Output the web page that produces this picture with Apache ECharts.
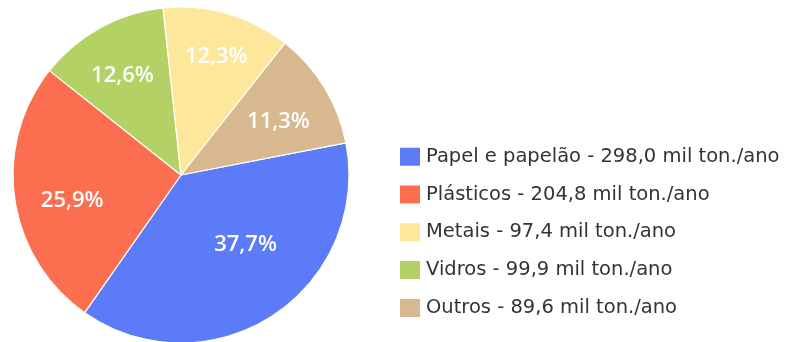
<!DOCTYPE html>
<html>
<head>
<meta charset="utf-8">
<script src="https://cdn.jsdelivr.net/npm/echarts@6/dist/echarts.min.js"></script>
<style>
  html, body { margin: 0; padding: 0; background: #ffffff; }
  #chart { width: 788px; height: 342px; }
</style>
</head>
<body>
<div id="chart"></div>
<script>
// Recyclable waste composition
const materials = ['Papel e papelão', 'Plásticos', 'Vidros', 'Metais', 'Outros'];
// share of total (%), as printed on the slices
const shares = [37.7, 25.9, 12.6, 12.3, 11.3];
// annual amount (thousand tonnes per year), as printed in the legend
const amounts = [298.0, 204.8, 99.9, 97.4, 89.6];
const legendOrder = ['Papel e papelão', 'Plásticos', 'Metais', 'Vidros', 'Outros'];

const sliceColors = ['#5b7bf9', '#fb6e4f', '#b3d165', '#fde79b', '#d8b98f'];
// small per-slice nudges of the percentage text
const labelNudge = [[3, -25], [3, 9], [-4, 0], [4, -10], [1, 6]];

const fmt = (v, d) => v.toFixed(d).replace('.', ',');

const pieData = materials.map((name, i) => ({
  name: name,
  value: shares[i],
  itemStyle: { color: sliceColors[i] }
}));

const chart = echarts.init(document.getElementById('chart'), null, { renderer: 'canvas' });

chart.setOption({
  animation: false,
  legend: {
    data: legendOrder,
    orient: 'vertical',
    left: 393,
    top: 140.7,
    itemWidth: 22,
    itemHeight: 20,
    itemGap: 15.8,
    icon: 'rect',
    textStyle: { fontFamily: 'DejaVu Sans', fontSize: 19.5, lineHeight: 22, color: '#333333' },
    formatter: name => {
      const v = amounts[materials.indexOf(name)];
      return name + ' - ' + fmt(v, 1) + ' mil ton./ano';
    }
  },
  series: [
    {
      type: 'pie',
      center: [181, 175],
      radius: [0, 168],
      startAngle: 11,
      clockwise: true,
      data: pieData,
      itemStyle: { borderColor: '#ffffff', borderWidth: 1.2 },
      label: { show: false },
      labelLine: { show: false },
      emphasis: { disabled: true }
    },
    {
      // transparent ring that only carries the percentage text
      type: 'pie',
      center: [181, 175],
      radius: [106, 114],
      startAngle: 11,
      clockwise: true,
      silent: true,
      data: pieData.map(d => ({ name: d.name, value: d.value })),
      itemStyle: { color: 'rgba(0,0,0,0)' },
      label: {
        show: true,
        position: 'inside',
        color: '#ffffff',
        fontFamily: 'Open Sans',
        fontSize: 22,
        fontWeight: 600,
        formatter: p => fmt(p.value, 1) + '%'
      },
      labelLayout: p => ({ dx: labelNudge[p.dataIndex][0], dy: labelNudge[p.dataIndex][1] }),
      labelLine: { show: false },
      emphasis: { disabled: true }
    }
  ]
});
</script>
</body>
</html>
